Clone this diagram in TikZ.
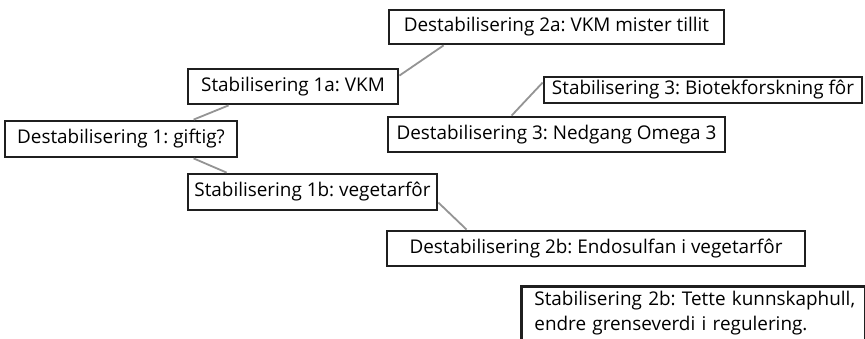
\documentclass[tikz,border=0pt]{standalone}
\usepackage{fontspec}
\setmainfont{Open Sans}
\usetikzlibrary{calc}
\frenchspacing
\begin{document}
\begin{tikzpicture}[x=1pt,y=-1pt,
  box/.style={draw=black!88, line width=2.8pt, inner sep=0pt, fill=white,
    font=\fontsize{18.9}{25}\selectfont},
  link/.style={draw=black!42, line width=1.8pt}]
\useasboundingbox (0,0) rectangle (865,339);
\begin{scope}
\clip (0,0) rectangle (865,339);
\node[box, minimum width=335pt, minimum height=34pt] (A) at (556.5,27) {Destabilisering 2a: VKM mister tillit};
\node[box, minimum width=210pt, minimum height=35pt] (B) at (293,86.5) {Stabilisering 1a: VKM};
\node[box, minimum width=232pt, minimum height=36pt] (C) at (121,139) {Destabilisering 1: giftig?};
\node[box, minimum width=318pt, minimum height=26pt] (D) at (703,90) {Stabilisering 3: Biotekforskning fôr};
\node[box, minimum width=337pt, minimum height=35pt] (E) at (556.5,134.5) {Destabilisering 3: Nedgang Omega 3};
\node[box, minimum width=249pt, minimum height=36pt] (F) at (312.5,192) {Stabilisering 1b: vegetarfôr};
\node[box, minimum width=418pt, minimum height=35pt] (G) at (596,248.5) {Destabilisering 2b: Endosulfan i vegetarfôr};
\node[box, anchor=north west, minimum width=344pt, text width=330pt, align=left,
  inner xsep=7pt, inner ysep=5pt] (H) at (520,285)
  {\hspace*{6pt}Stabilisering 2b: Tette kunnskaphull,\\\hspace*{6pt}endre grenseverdi i regulering.};
\draw[link] ($(B.north east)+(0,8)$) -- ($(A.south west)+(56,0)$);
\draw[link] ($(C.north west)+(190,0)$) -- ($(B.south west)+(42,0)$);
\draw[link] ($(C.south west)+(190,0)$) -- ($(F.north west)+(40,0)$);
\draw[link] ($(F.north east)+(0,30)$) -- ($(G.north west)+(81,0)$);
\draw[link] ($(E.north west)+(125,0)$) -- ($(D.north west)+(0,7)$);
\draw[link] ($(G.south)+(-2,0)$) -- ($(G.south)+(-2,0)$ |- H.north);
\end{scope}
\end{tikzpicture}
\end{document}
